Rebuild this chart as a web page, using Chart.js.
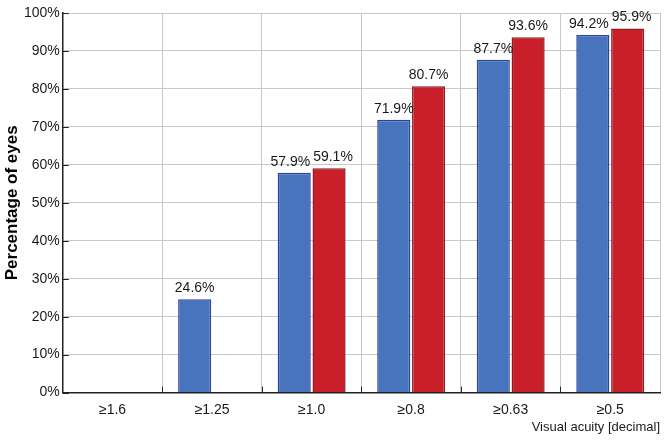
<!DOCTYPE html>
<html>
<head>
<meta charset="utf-8">
<script src="https://cdn.jsdelivr.net/npm/chart.js@4/dist/chart.umd.min.js"></script>
<style>
  html, body { margin: 0; padding: 0; background: #fff; }
  #wrap { width: 668px; height: 442px; }
</style>
</head>
<body>
<div id="wrap"><canvas id="acuityChart"></canvas></div>
<script>
// 数据
const categories = ['≥1.6', '≥1.25', '≥1.0', '≥0.8', '≥0.63', '≥0.5'];
const blueValues = [0, 24.6, 57.9, 71.9, 87.7, 94.2];
const redValues = [0, 0, 59.1, 80.7, 93.6, 95.9];
const yTicks = [0, 10, 20, 30, 40, 50, 60, 70, 80, 90, 100];

const FONT = '"Liberation Sans", Arial, sans-serif';

// 柱顶数值标签（重叠时左右错开）
const valueLabels = {
    id: 'valueLabels',
    afterDatasetsDraw(chart) {
        const ctx = chart.ctx;
        ctx.save();
        ctx.font = '14px ' + FONT;
        ctx.fillStyle = '#1a1a1a';
        ctx.textAlign = 'center';
        ctx.textBaseline = 'bottom';
        const blueMeta = chart.getDatasetMeta(0).data;
        const redMeta = chart.getDatasetMeta(1).data;
        categories.forEach((c, i) => {
            const items = [];
            if (blueValues[i]) items.push({ v: blueValues[i], bar: blueMeta[i] });
            if (redValues[i]) items.push({ v: redValues[i], bar: redMeta[i] });
            items.forEach(it => {
                it.text = it.v.toFixed(1) + '%';
                it.w = ctx.measureText(it.text).width;
                it.x = it.bar.x;
                it.y = it.bar.y - 4;
            });
            if (items.length === 2) {
                const a = items[0], b = items[1];
                const overlap = (a.x + a.w / 2) - (b.x - b.w / 2) + 3;
                if (overlap > 0 && Math.abs(a.y - b.y) < 15) {
                    a.x -= overlap / 2;
                    b.x += overlap / 2;
                }
            }
            items.forEach(it => ctx.fillText(it.text, it.x, it.y));
        });
        ctx.restore();
    }
};

// 坐标轴内侧刻度线
const innerTicks = {
    id: 'innerTicks',
    afterDraw(chart) {
        const ctx = chart.ctx;
        const x = chart.scales.x, y = chart.scales.y;
        ctx.save();
        ctx.strokeStyle = '#222';
        ctx.lineWidth = 1;
        ctx.beginPath();
        yTicks.forEach(t => {
            const py = Math.round(y.getPixelForValue(t)) + 0.5;
            ctx.moveTo(x.left, py);
            ctx.lineTo(x.left + 6, py);
        });
        const n = categories.length;
        for (let i = 1; i < n; i++) {
            const px = Math.round(x.left + i * x.width / n) + 0.5;
            ctx.moveTo(px, y.bottom);
            ctx.lineTo(px, y.bottom - 6);
        }
        ctx.stroke();
        ctx.restore();
    }
};

new Chart(document.getElementById('acuityChart'), {
    type: 'bar',
    data: {
        labels: categories,
        datasets: [{
            data: blueValues,
            backgroundColor: '#4873bd',
            borderColor: '#2c43a0',
            borderWidth: 1.5,
            categoryPercentage: 0.7,
            barPercentage: 0.95
        }, {
            data: redValues,
            backgroundColor: '#c91f28',
            borderColor: '#921a20',
            borderWidth: 1.5,
            categoryPercentage: 0.7,
            barPercentage: 0.95
        }]
    },
    options: {
        responsive: true,
        maintainAspectRatio: false,
        animation: false,
        layout: { padding: { top: 13, right: 8, left: 0, bottom: 7 } },
        plugins: {
            legend: { display: false },
            tooltip: { enabled: false }
        },
        scales: {
            x: {
                grid: { color: '#c8c8c8', offset: true, drawTicks: false },
                border: { color: '#222', width: 1.5 },
                ticks: { color: '#1a1a1a', font: { family: FONT, size: 14 }, padding: 9 },
                title: {
                    display: true,
                    text: 'Visual acuity [decimal]',
                    align: 'end',
                    color: '#1a1a1a',
                    font: { family: FONT, size: 13 },
                    padding: { top: -8, bottom: 0 }
                }
            },
            y: {
                min: 0,
                max: 100,
                grid: { color: '#c8c8c8', drawTicks: false },
                border: { color: '#222', width: 1.5 },
                afterBuildTicks: axis => { axis.ticks = yTicks.map(v => ({ value: v })); },
                ticks: {
                    color: '#1a1a1a',
                    font: { family: FONT, size: 14 },
                    padding: 3,
                    callback: v => v + '%'
                },
                title: {
                    display: true,
                    text: 'Percentage of eyes',
                    color: '#000',
                    font: { family: FONT, size: 17, weight: 'bold', lineHeight: 1 },
                    padding: { top: 4, bottom: 0 }
                }
            }
        }
    },
    plugins: [valueLabels, innerTicks]
});
</script>
</body>
</html>
